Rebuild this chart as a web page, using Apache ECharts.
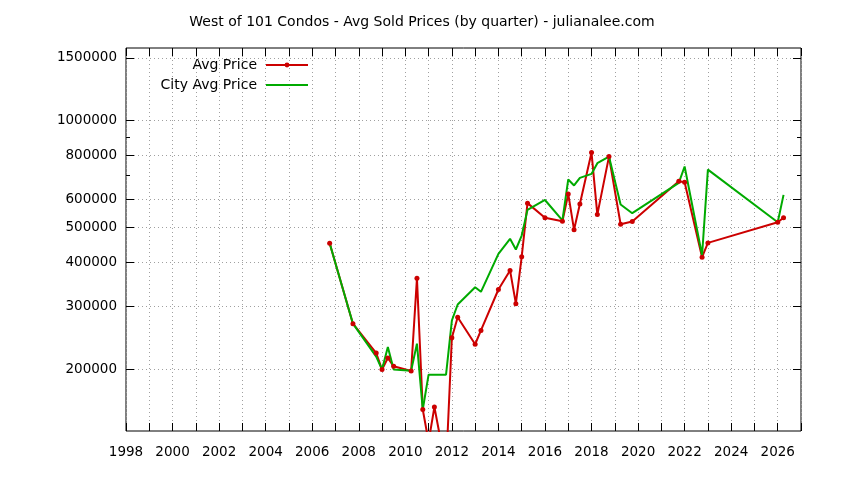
<!DOCTYPE html>
<html>
<head>
<meta charset="utf-8">
<title>West of 101 Condos - Avg Sold Prices</title>
<script src="https://cdn.jsdelivr.net/npm/echarts@6/dist/echarts.min.js"></script>
<style>
  html, body { margin: 0; padding: 0; background: #fff; }
  #chart { width: 844px; height: 480px; }
</style>
</head>
<body>
<div id="chart"></div>
<script>
// quarters (decimal year) and prices
const avgQuarters = [2006.75, 2007.75, 2008.75, 2009.0, 2009.25, 2009.5, 2010.25, 2010.5, 2010.75, 2011.0,
  2011.25, 2011.75, 2012.0, 2012.25, 2013.0, 2013.25, 2014.0, 2014.5, 2014.75, 2015.0,
  2015.25, 2016.0, 2016.75, 2017.0, 2017.25, 2017.5, 2018.0, 2018.25, 2018.75, 2019.25,
  2019.75, 2021.75, 2022.0, 2022.75, 2023.0, 2026.0, 2026.25];
const avgPrices = [452000, 268500, 222000, 199400, 215000, 203700, 197600, 360000, 154000, 125000,
  156500, 105000, 245000, 280000, 235000, 257000, 335000, 379000, 305600, 414000,
  586000, 533000, 521000, 622000, 493000, 583000, 813000, 544000, 792000, 511000,
  520000, 675000, 671000, 413000, 453000, 518000, 533000];

const cityQuarters = [2006.75, 2007.75, 2008.75, 2009.0, 2009.25, 2009.5, 2010.25, 2010.5, 2010.75, 2011.0,
  2011.75, 2012.0, 2012.25, 2013.0, 2013.25, 2014.0, 2014.5, 2014.75, 2015.0, 2015.25,
  2016.0, 2016.75, 2017.0, 2017.25, 2017.5, 2018.0, 2018.25, 2018.75, 2019.25, 2019.75,
  2021.75, 2022.0, 2022.75, 2023.0, 2026.0, 2026.25];
const cityPrices = [452000, 268500, 217000, 199400, 231000, 199400, 198000, 236000, 154000, 193000,
  193000, 274000, 304000, 340000, 330000, 422000, 465000, 434000, 475000, 561000,
  598000, 524000, 683000, 657000, 690000, 708000, 759000, 792000, 581000, 549000,
  668000, 743000, 418000, 728000, 518000, 618000];

const yTicks = [200000, 300000, 400000, 500000, 600000, 800000, 1000000, 1500000];
const yMinorTicks = [700000, 900000];

const FONT = 'DejaVu Sans';
const RED = '#cc0000';
const GREEN = '#00aa00';

const chart = echarts.init(document.getElementById('chart'));

const gridDots = { show: true, lineStyle: { color: '#a0a0a0', width: 1, type: [1, 3] } };

function yAxisDef(pos, ticks, len, withLabels) {
  return {
    type: 'log',
    logBase: 10,
    min: 134000,
    max: 1600000,
    position: pos,
    axisLine: { show: false },
    axisTick: { show: true, inside: true, length: len, customValues: ticks, lineStyle: { color: '#000' } },
    axisLabel: withLabels
      ? { show: true, customValues: ticks, color: '#000', fontFamily: FONT, fontSize: 13.5, margin: 9,
          formatter: v => String(Math.round(v)) }
      : { show: false },
    splitLine: withLabels ? gridDots : { show: false },
    minorTick: { show: false },
    minorSplitLine: { show: false }
  };
}

function xAxisDef(pos, withLabels) {
  return {
    type: 'value',
    min: 1998,
    max: 2027,
    interval: 1,
    position: pos,
    axisLine: { show: false },
    axisTick: { show: true, inside: true, length: 8, lineStyle: { color: '#000' } },
    axisLabel: withLabels
      ? { show: true, color: '#000', fontFamily: FONT, fontSize: 13.5, margin: 14,
          formatter: v => (v % 2 === 0 ? String(v) : '') }
      : { show: false },
    splitLine: withLabels ? gridDots : { show: false }
  };
}

const option = {
  animation: false,
  backgroundColor: '#fff',
  textStyle: { fontFamily: FONT },
  title: {
    text: 'West of 101 Condos - Avg Sold Prices (by quarter) - julianalee.com',
    left: 'center',
    top: 10,
    textStyle: { fontFamily: FONT, fontSize: 14, fontWeight: 'normal', color: '#000' }
  },
  legend: {
    data: [
      { name: 'Avg Price' },
      { name: 'City Avg Price', itemStyle: { opacity: 0 } }
    ],
    orient: 'vertical',
    align: 'right',
    right: 535,
    top: 58,
    padding: 0,
    itemWidth: 42,
    itemHeight: 6,
    itemGap: 6,
    textStyle: { fontFamily: FONT, fontSize: 14, color: '#000', padding: [0, 4, 0, 0] }
  },
  grid: {
    left: 126,
    right: 43,
    top: 48,
    bottom: 49,
    show: true,
    borderColor: '#000',
    borderWidth: 1,
    containLabel: false
  },
  xAxis: [xAxisDef('bottom', true), xAxisDef('top', false)],
  yAxis: [
    yAxisDef('left', yTicks, 8, true),
    yAxisDef('right', yTicks, 8, false),
    yAxisDef('left', yMinorTicks, 4, false),
    yAxisDef('right', yMinorTicks, 4, false)
  ],
  series: [
    {
      name: 'Avg Price',
      type: 'line',
      xAxisIndex: 0,
      yAxisIndex: 0,
      data: avgQuarters.map((q, i) => [q, avgPrices[i]]),
      symbol: 'circle',
      symbolSize: 5,
      showSymbol: true,
      clip: true,
      itemStyle: { color: RED },
      lineStyle: { color: RED, width: 2 }
    },
    {
      name: 'City Avg Price',
      type: 'line',
      xAxisIndex: 0,
      yAxisIndex: 0,
      data: cityQuarters.map((q, i) => [q, cityPrices[i]]),
      symbol: 'none',
      clip: true,
      itemStyle: { color: GREEN },
      lineStyle: { color: GREEN, width: 2 }
    }
  ]
};

chart.setOption(option);
</script>
</body>
</html>
